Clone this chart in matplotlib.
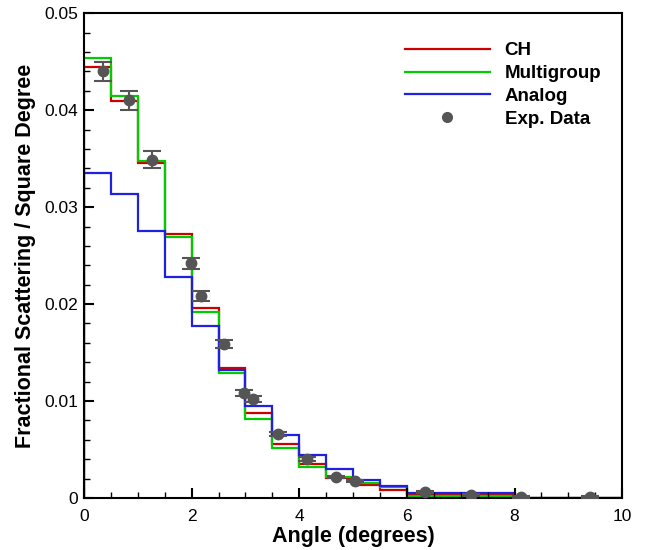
import matplotlib
matplotlib.use("Agg")
import matplotlib.pyplot as plt
from matplotlib.ticker import MultipleLocator, FuncFormatter
from matplotlib.lines import Line2D

plt.rcParams['font.family'] = ['Liberation Sans', 'DejaVu Sans']

# Bin edges (degrees)
edges = [0, 0.5, 1, 1.5, 2, 2.5, 3, 3.5, 4, 4.5, 5, 5.5, 6, 8, 10]

# Simulated histograms
ch = [0.0445, 0.0409, 0.0345, 0.0272, 0.0196, 0.0134, 0.0088, 0.0056,
      0.0035, 0.0021, 0.0013, 0.0008, 0.0004, 0.0]
multigroup = [0.0454, 0.0415, 0.0348, 0.0269, 0.0192, 0.0129, 0.0082, 0.0052,
              0.0032, 0.0022, 0.0015, 0.0011, 0.0002, 0.0]
analog = [0.0335, 0.0314, 0.0275, 0.0228, 0.0177, 0.0132, 0.0095, 0.0065,
          0.0044, 0.0030, 0.0019, 0.0012, 0.0005, 0.00005]

# Experimental data
exp_x = [0.35, 0.84, 1.27, 1.99, 2.17, 2.61, 2.97, 3.14, 3.61, 4.14,
         4.68, 5.04, 6.34, 7.2, 8.12, 9.41]
exp_y = [0.0440, 0.0410, 0.0349, 0.0242, 0.0208, 0.0159, 0.0108, 0.0102,
         0.0066, 0.0040, 0.0022, 0.0018, 0.0006, 0.0003, 0.0001, 0.0001]
exp_err = [0.0010, 0.0010, 0.0009, 0.0006, 0.0005, 0.0004, 0.0003, 0.0003,
           0.0002, 0.0002, 0.0001, 0.0001, 0.0001, 0.0001, 0.0001, 0.0001]

red, green, blue, grey = '#cc0000', '#00cc00', '#2020e0', '#555555'

fig = plt.figure(figsize=(6.52, 5.5), dpi=100)
ax = fig.add_axes([0.1288, 0.0945, 0.8254, 0.8815])

ax.stairs(ch, edges, color=red, lw=1.6)
ax.stairs(multigroup, edges, color=green, lw=1.6)
ax.stairs(analog, edges, color=blue, lw=1.6)
ax.errorbar(exp_x, exp_y, yerr=exp_err, fmt='o', color=grey, ms=7.5,
            capsize=6.5, elinewidth=1.5, capthick=1.5, zorder=5)

ax.set_xlim(0, 10)
ax.set_ylim(0, 0.05)
ax.xaxis.set_major_locator(MultipleLocator(2))
ax.xaxis.set_minor_locator(MultipleLocator(0.5))
ax.yaxis.set_major_locator(MultipleLocator(0.01))
ax.yaxis.set_minor_locator(MultipleLocator(0.002))
ax.yaxis.set_major_formatter(FuncFormatter(lambda v, p: '0' if abs(v) < 1e-9 else f'{v:.2f}'))
ax.tick_params(which='both', direction='in', labelsize=12.5)
ax.tick_params(which='major', length=7, width=1.5)
ax.tick_params(axis='x', which='major', pad=8)
ax.tick_params(axis='y', which='major', pad=4)
ax.tick_params(which='minor', length=4, width=1)
for s in ax.spines.values():
    s.set_linewidth(1.5)

ax.set_xlabel('Angle (degrees)', fontsize=15.5, fontweight='bold', labelpad=1)
ax.set_ylabel('Fractional Scattering / Square Degree', fontsize=15.5,
              fontweight='bold', labelpad=6)

handles = [Line2D([], [], color=red, lw=1.6),
           Line2D([], [], color=green, lw=1.6),
           Line2D([], [], color=blue, lw=1.6),
           Line2D([], [], color=grey, marker='o', ls='none', ms=7)]
ax.legend(handles, ['CH', 'Multigroup', 'Analog', 'Exp. Data'],
          loc='upper left', bbox_to_anchor=(0.597, 0.94), frameon=False,
          borderpad=0, borderaxespad=0, handlelength=4.5, handletextpad=0.8,
          labelspacing=0.3, prop={'weight': 'bold', 'size': 13.5})

fig.savefig('out.png', dpi=100)
